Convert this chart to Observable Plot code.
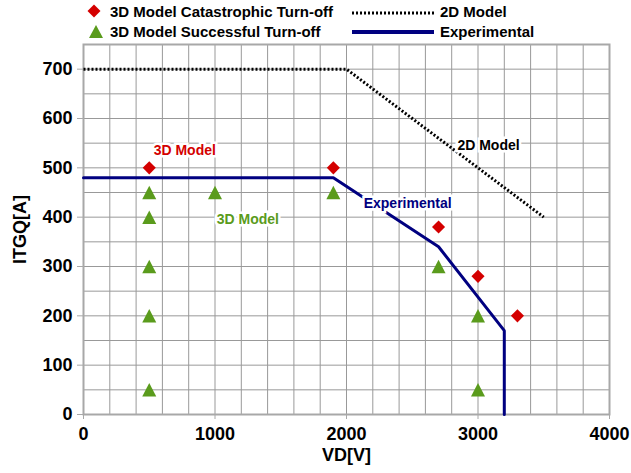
<!DOCTYPE html>
<html>
<head>
<meta charset="utf-8">
<script src="https://cdn.jsdelivr.net/npm/d3@7"></script>
<script src="https://cdn.jsdelivr.net/npm/@observablehq/plot@0.6"></script>
<style>
  html, body { margin: 0; padding: 0; background: #fff; }
  #wrap { width: 631px; height: 473px; position: relative; font-family: "Liberation Sans", Arial, sans-serif; }
  #legend { display: block; }
</style>
</head>
<body>
<div id="wrap">
  <svg id="legend" width="631" height="40" xmlns="http://www.w3.org/2000/svg"
       font-family="Liberation Sans, Arial, sans-serif" font-weight="bold" font-size="15">
    <path d="M94,4.5 L100.5,11 L94,17.5 L87.5,11 Z" fill="#d40000"/>
    <text x="110" y="17" fill="#000">3D Model Catastrophic Turn-off</text>
    <path d="M96,25 L103,38 L89,38 Z" fill="#5a9b1c"/>
    <text x="110" y="36.5" fill="#000">3D Model Successful Turn-off</text>
    <line x1="352" y1="13" x2="434" y2="13" stroke="#000" stroke-width="3" stroke-dasharray="2,2"/>
    <text x="440" y="17" fill="#000">2D Model</text>
    <line x1="352" y1="32" x2="434" y2="32" stroke="#000080" stroke-width="4"/>
    <text x="440" y="36.5" fill="#000">Experimental</text>
  </svg>
  <div id="chart"></div>
</div>
<script>
// ---- data ----
const catX = [500, 1900, 2700, 3000, 3300];
const catY = [500, 500, 380, 280, 200];

const sucX = [500, 500, 500, 500, 500, 1000, 1900, 2700, 3000, 3000];
const sucY = [450, 400, 300, 200, 50, 450, 450, 300, 200, 50];

const model2dX = [0, 2000, 3500];
const model2dY = [700, 700, 400];

const expX = [0, 1900, 2700, 3200, 3200];
const expY = [480, 480, 340, 170, 0];

const labelText = ["3D Model", "3D Model", "2D Model", "Experimental"];
const labelX = [770, 1250, 3080, 2465];
const labelY = [536, 395, 545, 428];
const labelColor = ["#d40000", "#5a9b1c", "#000000", "#000080"];

const xTicks = [0, 1000, 2000, 3000, 4000];
const yTicks = [0, 100, 200, 300, 400, 500, 600, 700];
const xGrid = [0, 200, 400, 600, 800, 1000, 1200, 1400, 1600, 1800, 2000, 2200, 2400, 2600, 2800, 3000, 3200, 3400, 3600, 3800, 4000];
const yGrid = [0, 50, 100, 150, 200, 250, 300, 350, 400, 450, 500, 550, 600, 650, 700, 750];
const xMin = 0, xMax = 4000, yMin = 0, yMax = 750;

// ---- build ----
const cat = catX.map((x, i) => ({x, y: catY[i]}));
const suc = sucX.map((x, i) => ({x, y: sucY[i]}));
const m2d = model2dX.map((x, i) => ({x, y: model2dY[i]}));
const exp = expX.map((x, i) => ({x, y: expY[i]}));
const labels = labelText.map((t, i) => ({t, x: labelX[i], y: labelY[i], c: labelColor[i]}));

const triangleUp = {
  draw(context, size) {
    const s = Math.sqrt(size);
    const h = s * 0.97;
    context.moveTo(0, -h / 2);
    context.lineTo(s / 2, h / 2);
    context.lineTo(-s / 2, h / 2);
    context.closePath();
  }
};

const gridColor = "#999999";
const axisColor = "#a8a8a8";

const chart = Plot.plot({
  width: 631,
  height: 433,
  marginTop: 4,
  marginLeft: 83,
  marginRight: 22,
  marginBottom: 59,
  style: {fontFamily: "Liberation Sans, Arial, sans-serif", color: "#000"},
  x: {domain: [xMin, xMax]},
  y: {domain: [yMin, yMax]},
  marks: [
    Plot.ruleX(xGrid, {stroke: gridColor, strokeWidth: 1}),
    Plot.ruleY(yGrid, {stroke: gridColor, strokeWidth: 1}),
    Plot.frame({fill: "none", stroke: axisColor, strokeWidth: 2}),
    Plot.axisX(xTicks, {tickSize: 5, tickPadding: 8, stroke: axisColor, fontSize: 18, fontWeight: "bold", label: null, fill: "#000", tickFormat: d => String(d)}),
    Plot.axisY(yTicks, {tickSize: 6, tickPadding: 5, stroke: axisColor, fontSize: 18, fontWeight: "bold", label: null, fill: "#000", tickFormat: d => String(d)}),
    Plot.line(m2d, {x: "x", y: "y", stroke: "#000", strokeWidth: 3, strokeDasharray: "2,2", strokeLinecap: "butt"}),
    Plot.line(exp, {x: "x", y: "y", stroke: "#000080", strokeWidth: 3, strokeLinejoin: "miter"}),
    Plot.dot(suc, {x: "x", y: "y", symbol: triangleUp, r: 7.9, fill: "#5a9b1c", stroke: "none"}),
    Plot.dot(cat, {x: "x", y: "y", symbol: "diamond2", r: 5.9, fill: "#d40000", stroke: "none"}),
    Plot.text(labels, {x: "x", y: "y", text: "t", fill: "c", fontSize: 14, fontWeight: "bold", stroke: "#fff", strokeWidth: 5, strokeLinejoin: "miter"}),
    Plot.text(["VD[V]"], {frameAnchor: "bottom", dy: 46.5, fontSize: 18, fontWeight: "bold", fill: "#000"}),
    Plot.text(["ITGQ[A]"], {frameAnchor: "left", dx: -63, rotate: -90, textAnchor: "middle", fontSize: 18, fontWeight: "bold", fill: "#000"})
  ]
});
document.getElementById("chart").appendChild(chart);
</script>
</body>
</html>
